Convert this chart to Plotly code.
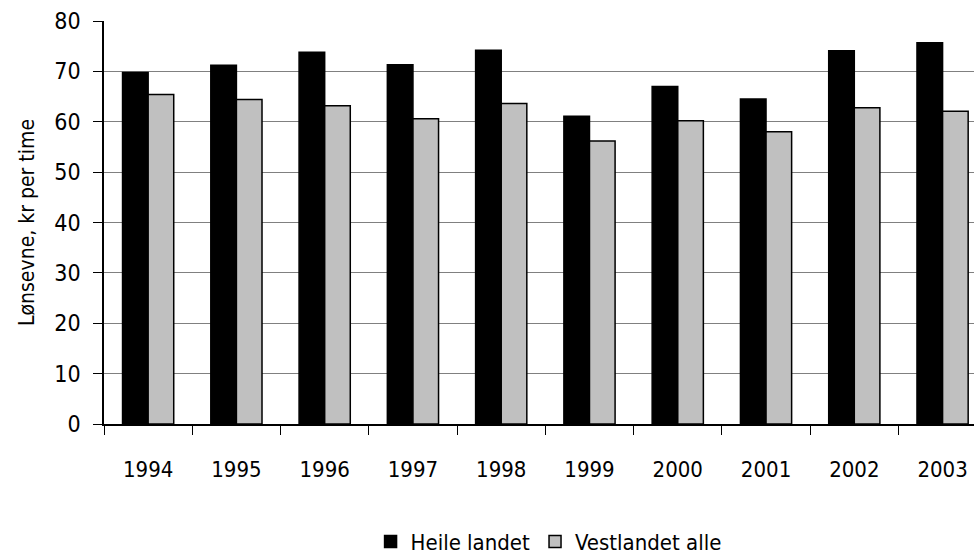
import plotly.graph_objects as go

years = ["1994", "1995", "1996", "1997", "1998", "1999", "2000", "2001", "2002", "2003"]
heile_landet = [69.8, 71.2, 73.8, 71.3, 74.2, 61.1, 67.0, 64.5, 74.1, 75.7]
vestlandet_alle = [65.4, 64.4, 63.2, 60.6, 63.6, 56.2, 60.2, 58.0, 62.8, 62.1]
y_ticks = [0, 10, 20, 30, 40, 50, 60, 70, 80]

FONT = "DejaVu Sans Condensed, Liberation Sans Narrow, Arial Narrow, sans-serif"

fig = go.Figure()
fig.add_trace(go.Bar(
    x=years, y=heile_landet, name="Heile landet",
    marker=dict(color="#000000", line=dict(color="#000000", width=1.5)),
))
fig.add_trace(go.Bar(
    x=years, y=vestlandet_alle, name="Vestlandet alle",
    marker=dict(color="#c0c0c0", line=dict(color="#000000", width=1.5)),
))

fig.update_layout(
    width=974, height=554,
    margin=dict(l=104, r=0, t=21, b=130, autoexpand=False),
    paper_bgcolor="white", plot_bgcolor="white",
    barmode="group", bargap=0.42, bargroupgap=0,
    font=dict(family=FONT, size=22, color="#000000"),
    showlegend=True,
    legend=dict(orientation="h", x=0.511, xanchor="center", y=-0.292, yanchor="middle",
                font=dict(size=22), itemwidth=30, traceorder="normal"),
)
fig.update_xaxes(
    type="category", range=[-0.5, 9.356], automargin=False,
    showline=True, linecolor="#000000", linewidth=1.5,
    ticks="outside", tickson="boundaries", ticklen=9, tickcolor="#000000", tickwidth=1,
    ticklabelstandoff=25, showgrid=False,
    tickfont=dict(size=22),
)
fig.update_yaxes(
    range=[0, 80], tickvals=y_ticks, automargin=False,
    showline=True, linecolor="#000000", linewidth=1.5,
    ticks="outside", ticklen=9, tickcolor="#000000", tickwidth=1,
    ticklabelstandoff=8,
    showgrid=True, gridcolor="#808080", gridwidth=1.2,
    zeroline=False,
    title=dict(text="Lønsevne, kr per time", font=dict(size=21), standoff=14),
    tickfont=dict(size=23),
)

fig.write_html("out.html", config={"displayModeBar": False},
               post_script="document.body.style.margin='0';document.body.style.overflow='hidden';")
